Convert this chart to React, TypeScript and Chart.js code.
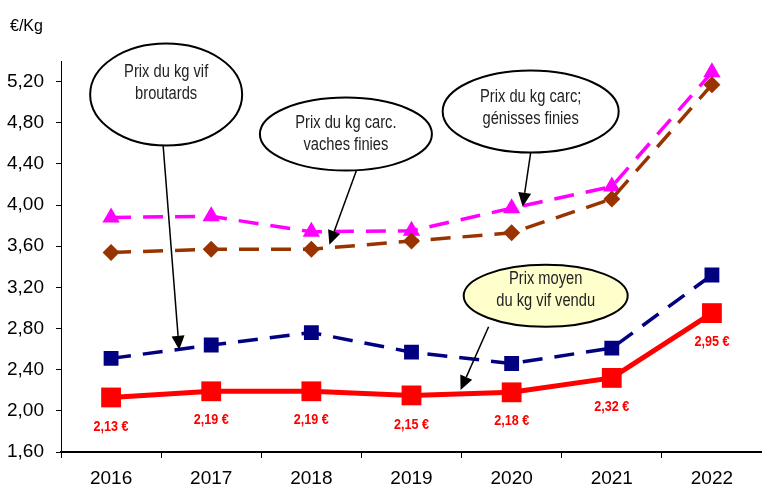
import React, { useEffect, useRef } from "react";
import { Chart, registerables } from "chart.js";

Chart.register(...registerables);

const categories = ["2016", "2017", "2018", "2019", "2020", "2021", "2022"];
const prixMoyenVif = [2.13, 2.19, 2.19, 2.15, 2.18, 2.32, 2.95];
const broutards = [2.51, 2.64, 2.76, 2.57, 2.46, 2.61, 3.32];
const vachesFinies = [3.54, 3.57, 3.57, 3.65, 3.73, 4.06, 5.17];
const genissesFinies = [3.88, 3.89, 3.74, 3.75, 3.97, 4.18, 5.29];
const yTicks = [1.6, 2.0, 2.4, 2.8, 3.2, 3.6, 4.0, 4.4, 4.8, 5.2];
const unitLabel = "€/Kg";

// callouts: center in data units (category index, value), text lines, arrow from->to in data units
const callouts = [
  { cx: 0.55, cy: 5.074, rx: 76, ry: 51, lines: ["Prix du kg vif", "broutards"], fill: "#ffffff", textDy: -22, from: [0.52, 4.578], to: [0.68, 2.593] },
  { cx: 2.345, cy: 4.69, rx: 86, ry: 36.5, lines: ["Prix du kg carc.", "vaches finies"], fill: "#ffffff", textDy: -11, from: [2.45, 4.335], to: [2.18, 3.615] },
  { cx: 4.19, cy: 4.909, rx: 88, ry: 41, lines: ["Prix du kg carc;", "génisses finies"], fill: "#ffffff", textDy: -14, from: [4.19, 4.51], to: [4.11, 3.984] },
  { cx: 4.34, cy: 3.118, rx: 82, ry: 31, lines: ["Prix moyen", "du kg vif vendu"], fill: "#ffffcc", textDy: -17, from: [3.77, 2.817], to: [3.49, 2.203] },
];

const fmt = (v: number) => v.toFixed(2).replace(".", ",");

function narrowText(ctx: CanvasRenderingContext2D, text: string, x: number, y: number, sx: number) {
  ctx.save();
  ctx.translate(x, y);
  ctx.scale(sx, 1);
  ctx.fillText(text, 0, 0);
  ctx.restore();
}

// stretch the plot area to the right edge of the canvas
const fullWidthPlugin = {
  id: "fullWidth",
  afterLayout(chart: any) {
    const xs = chart.scales.x;
    const w = chart.width;
    chart.chartArea.right = w;
    chart.chartArea.width = w - chart.chartArea.left;
    xs.right = w;
    xs.width = w - xs.left;
    xs.configure();
  },
};

const overlayPlugin = {
  id: "overlay",
  afterDatasetsDraw(chart: any) {
    const ctx = chart.ctx;
    const xs = chart.scales.x;
    const ys = chart.scales.y;
    ctx.save();
    // unit label
    ctx.fillStyle = "#000";
    ctx.font = "16px 'Liberation Sans', Arial, sans-serif";
    ctx.textAlign = "left";
    ctx.textBaseline = "middle";
    ctx.fillText(unitLabel, 10, 27);

    // data labels for red series
    const meta = chart.getDatasetMeta(0);
    ctx.fillStyle = "#ff0000";
    ctx.font = "bold 15px 'Liberation Sans', Arial, sans-serif";
    ctx.textAlign = "center";
    meta.data.forEach((pt: any, i: number) => {
      narrowText(ctx, fmt(prixMoyenVif[i]) + " €", pt.x, pt.y + 29, 0.84);
    });

    // callouts
    callouts.forEach((c) => {
      const fx = xs.getPixelForValue(c.from[0]);
      const fy = ys.getPixelForValue(c.from[1]);
      const tx = xs.getPixelForValue(c.to[0]);
      const ty = ys.getPixelForValue(c.to[1]);
      const ang = Math.atan2(ty - fy, tx - fx);
      const headLen = 14;
      const headW = 6.5;
      const bx = tx - headLen * Math.cos(ang);
      const by = ty - headLen * Math.sin(ang);
      ctx.strokeStyle = "#000";
      ctx.lineWidth = 1.5;
      ctx.setLineDash([]);
      ctx.beginPath();
      ctx.moveTo(fx, fy);
      ctx.lineTo(bx, by);
      ctx.stroke();
      ctx.fillStyle = "#000";
      ctx.beginPath();
      ctx.moveTo(tx, ty);
      ctx.lineTo(bx + headW * Math.sin(ang), by - headW * Math.cos(ang));
      ctx.lineTo(bx - headW * Math.sin(ang), by + headW * Math.cos(ang));
      ctx.closePath();
      ctx.fill();

      const cx = xs.getPixelForValue(c.cx);
      const cy = ys.getPixelForValue(c.cy);
      ctx.beginPath();
      ctx.ellipse(cx, cy, c.rx, c.ry, 0, 0, Math.PI * 2);
      ctx.fillStyle = c.fill;
      ctx.fill();
      ctx.lineWidth = 2;
      ctx.strokeStyle = "#000";
      ctx.stroke();
      ctx.fillStyle = "#222";
      ctx.font = "17.5px 'Liberation Sans', Arial, sans-serif";
      ctx.textAlign = "center";
      ctx.textBaseline = "middle";
      c.lines.forEach((l, i) => narrowText(ctx, l, cx, cy + c.textDy + i * 22, 0.84));
    });
    ctx.restore();
  },
};

export default function App() {
  const ref = useRef<HTMLCanvasElement | null>(null);
  useEffect(() => {
    if (!ref.current) return;
    const dashed = [20, 12];
    const chart = new Chart(ref.current, {
      type: "line",
      data: {
        labels: categories,
        datasets: [
          {
            label: "Prix moyen du kg vif vendu",
            data: prixMoyenVif,
            borderColor: "#ff0000",
            backgroundColor: "#ff0000",
            borderWidth: 5,
            pointStyle: "rect",
            pointRadius: 14,
            pointBorderWidth: 0,
          },
          {
            label: "Prix du kg vif broutards",
            data: broutards,
            borderColor: "#000080",
            backgroundColor: "#000080",
            borderWidth: 3.5,
            borderDash: dashed,
            pointStyle: "rect",
            pointRadius: 10.5,
            pointBorderWidth: 0,
          },
          {
            label: "Prix du kg carc. vaches finies",
            data: vachesFinies,
            borderColor: "#993300",
            backgroundColor: "#993300",
            borderWidth: 3.5,
            borderDash: dashed,
            pointStyle: "rectRot",
            pointRadius: 8.5,
            pointBorderWidth: 0,
          },
          {
            label: "Prix du kg carc; génisses finies",
            data: genissesFinies,
            borderColor: "#ff00ff",
            backgroundColor: "#ff00ff",
            borderWidth: 3.5,
            borderDash: dashed,
            pointStyle: "triangle",
            pointRadius: 10,
            pointBorderWidth: 0,
          },
        ],
      },
      options: {
        animation: false,
        responsive: false,
        maintainAspectRatio: false,
        layout: { padding: { top: 61, right: 0, left: 0, bottom: 0 } },
        plugins: { legend: { display: false }, tooltip: { enabled: false } },
        elements: { line: { tension: 0 } },
        scales: {
          x: {
            offset: true,
            grid: { offset: true, drawOnChartArea: false, color: "#000", tickLength: 6, tickWidth: 1 },
            border: { color: "#000", width: 2 },
            ticks: { color: "#000", font: { size: 19, family: "'Liberation Sans', Arial, sans-serif" }, padding: 9 },
            afterFit: (s: any) => { s.height = 34; s.paddingLeft = 0; s.paddingRight = 0; },
          },
          y: {
            min: 1.6,
            max: 5.4,
            grid: { drawOnChartArea: false, color: "#000", tickLength: 5, tickWidth: 1 },
            border: { color: "#000", width: 1 },
            afterBuildTicks: (s: any) => { s.ticks = yTicks.map((v) => ({ value: v })); },
            ticks: {
              color: "#000",
              padding: 12,
              font: { size: 19, family: "'Liberation Sans', Arial, sans-serif" },
              callback: (v: any) => fmt(Number(v)),
            },
            afterFit: (s: any) => { s.width = 61; s.paddingTop = 0; s.paddingBottom = 0; },
          },
        },
      },
      plugins: [fullWidthPlugin, overlayPlugin],
    } as any);
    return () => chart.destroy();
  }, []);
  return (
    <div style={{ position: "fixed", left: 0, top: 0, width: 762, height: 486, background: "#fff" }}>
      <canvas ref={ref} width={762} height={486} style={{ width: 762, height: 486 }} />
    </div>
  );
}
